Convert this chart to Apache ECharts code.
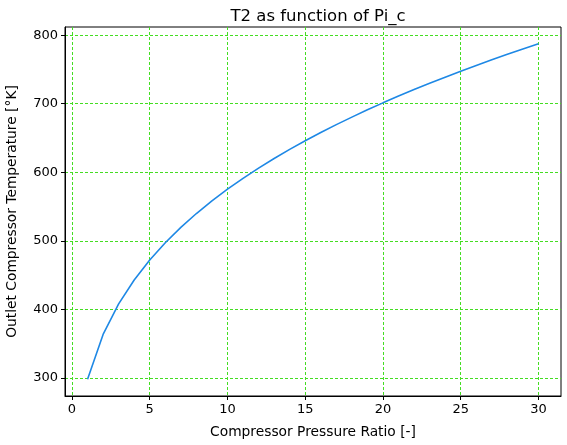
<!DOCTYPE html>
<html>
<head>
<meta charset="utf-8">
<script src="https://cdn.jsdelivr.net/npm/echarts@6/dist/echarts.min.js"></script>
<style>html,body{margin:0;padding:0;background:#fff}#c{width:567px;height:445px}</style>
</head>
<body>
<div id="c"></div>
<script>
const piRatio = [1,2,3,4,5,6,7,8,9,10,11,12,13,14,15,16,17,18,19,20,21,22,23,24,25,26,27,28,29,30];
const t2 = [298,363.3,407.9,442.8,472.0,497.2,519.6,539.8,558.3,575.3,591.2,606.1,620.1,633.4,646.0,658.0,669.5,680.5,691.1,701.3,711.2,720.7,729.9,738.8,747.5,755.9,764.1,772.1,779.9,787.5];
const xTicks = [0,5,10,15,20,25,30];
const yTicks = [300,400,500,600,700,800];

const font = 'DejaVu Sans';
const gridColor = '#44dd22';
const chart = echarts.init(document.getElementById('c'), null, {renderer:'canvas'});
chart.setOption({
  animation:false,
  backgroundColor:'#fff',
  title:{text:'T2 as function of Pi_c',left:313,textAlign:'center',top:3,
    textStyle:{fontFamily:font,fontSize:16.5,fontWeight:'normal',color:'#000'}},
  grid:{left:65,right:6,top:27,bottom:49,show:true,borderColor:'#000',borderWidth:1,
    backgroundColor:'transparent',containLabel:false,outerBoundsMode:'none'},
  xAxis:{type:'value',min:-0.45,max:31.45,
    name:'Compressor Pressure Ratio [-]',nameLocation:'middle',nameGap:29,
    nameTextStyle:{fontFamily:font,fontSize:13.8,color:'#000'},
    axisLine:{show:true,onZero:false,lineStyle:{color:'#000'}},
    axisTick:{show:true,length:4,lineStyle:{color:'#000'},customValues:xTicks},
    axisLabel:{fontFamily:font,fontSize:13,color:'#000',margin:7,customValues:xTicks},
    splitLine:{show:true,lineStyle:{color:gridColor,type:[3,2],width:1}}
  },
  yAxis:{type:'value',min:273.5,max:812,
    name:'Outlet Compressor Temperature [°K]',nameLocation:'middle',nameGap:46,
    nameTextStyle:{fontFamily:font,fontSize:13.8,color:'#000'},
    axisLine:{show:true,onZero:false,lineStyle:{color:'#000'}},
    axisTick:{show:true,length:4,lineStyle:{color:'#000'},customValues:yTicks},
    axisLabel:{fontFamily:font,fontSize:13,color:'#000',margin:7,customValues:yTicks},
    splitLine:{show:true,lineStyle:{color:gridColor,type:[3,2],width:1}}
  },
  series:[{type:'line',data:piRatio.map((p,i)=>[p,t2[i]]),showSymbol:false,
    lineStyle:{color:'#1e88e5',width:1.6},itemStyle:{color:'#1e88e5'}}]
});
</script>
</body>
</html>
